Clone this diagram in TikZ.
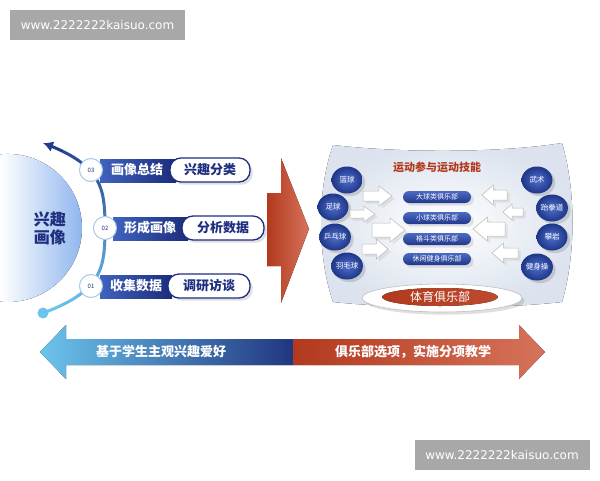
\documentclass[tikz,border=0pt]{standalone}
\usepackage{fontspec}
\setmainfont{Noto Sans CJK SC}
\newfontfamily\urlfont{DejaVu Sans}
\usetikzlibrary{shapes.geometric,shadows,arrows.meta}

\definecolor{navy}{HTML}{1F2F7F}
\definecolor{barleft}{HTML}{3F63BE}
\definecolor{barright}{HTML}{1C2C7C}
\definecolor{ringblue}{HTML}{A9C8E8}
\definecolor{arclight}{HTML}{6CC4EC}
\definecolor{arcdark}{HTML}{243C8E}
\definecolor{discblue}{HTML}{8DB4EE}
\definecolor{sportlight}{HTML}{4F6FCB}
\definecolor{sportdark}{HTML}{1E3688}
\definecolor{clubtop}{HTML}{4C6AC4}
\definecolor{clubbot}{HTML}{20388A}
\definecolor{redleft}{HTML}{B2391D}
\definecolor{redright}{HTML}{D6735B}
\definecolor{panelgray}{HTML}{DCE3EE}
\definecolor{wmgray}{HTML}{A8A8A8}

\tikzset{
  numdot/.style={circle,draw=ringblue,line width=1pt,fill=white,minimum size=23pt,inner sep=0pt,
    text=navy,font=\fontsize{6}{6}\selectfont},
  bartext/.style={text=white,font=\bfseries\fontsize{13}{13}\selectfont},
  pill/.style={draw=navy,line width=1.3pt,fill=white,rounded corners=11pt,minimum height=24pt,
    inner sep=0pt,text=navy,font=\bfseries\fontsize{13}{13}\selectfont,drop shadow={opacity=0.25}},
  sport/.style={ellipse,minimum width=31pt,minimum height=27pt,inner sep=0pt,inner color=sportlight,
    outer color=sportdark,text=white,font=\fontsize{7.5}{7.5}\selectfont,drop shadow={opacity=0.3}},
  club/.style={rounded corners=6pt,minimum width=68pt,minimum height=12pt,inner sep=0pt,
    top color=clubtop,bottom color=clubbot,text=white,font=\fontsize{7}{7}\selectfont,
    drop shadow={opacity=0.2}},
  warrow/.style={fill=white,draw=gray!55,line width=0.5pt,drop shadow={opacity=0.15}},
  watermark/.style={fill=wmgray,text=white,font=\urlfont\fontsize{12}{12}\selectfont,
    minimum width=175pt,minimum height=30pt,inner sep=0pt}
}

% white block arrow: tail x, tip x, y, half body, half head
\newcommand\whitearrow[5]{%
  \pgfmathsetmacro\hb{#2-0.45*(#2-#1)}
  \draw[warrow] (#1,#3-#4) -- (\hb,#3-#4) -- (\hb,#3-#5) -- (#2,#3) -- (\hb,#3+#5)
    -- (\hb,#3+#4) -- (#1,#3+#4) -- cycle;
}

\begin{document}
\begin{tikzpicture}[x=1pt,y=-1pt]
  \useasboundingbox (0,0) rectangle (600,480);
  \fill[white] (0,0) rectangle (600,480);

  % watermarks
  \node[watermark] (wm1) at (97.5,25) {www.2222222kaisuo.com};
  \node[watermark] (wm2) at (502,455) {www.2222222kaisuo.com};

  % left half disc
  \fill[left color=white,right color=discblue] (0,154.4) arc[start angle=-96.2,end angle=96.2,radius=74] -- cycle;
  \node[text=navy,align=center,font=\bfseries\fontsize{16}{18}\selectfont] (disc) at (50,228) {兴趣\\画像};

  % arc
  \foreach \i in {0,...,18}{
    \pgfmathsetmacro\ta{-1+\i/10}
    \pgfmathsetmacro\tb{-1+(\i+1)/10}
    \pgfmathsetmacro\p{\i*5}
    \draw[arcdark!\p!arclight,line width=3pt,line cap=round]
      plot[domain=\ta:\tb,samples=6] ({105-8*(\x)*(\x)-54*(\x)*(\x)*(\x)*(\x)},{228-85*\x});
  }
  \draw[arcdark,line width=3pt,-{Latex[length=10pt,width=11pt]}]
    plot[domain=0.9:1,samples=6] ({105-8*(\x)*(\x)-54*(\x)*(\x)*(\x)*(\x)},{228-85*\x});
  \fill[arclight] (43,313) circle (5.5);

  % rows
  \fill[left color=barleft,right color=barright] (100,159) rectangle (176,182);
  \fill[left color=barleft,right color=barright] (113,217) rectangle (188,240);
  \fill[left color=barleft,right color=barright] (100,275) rectangle (172,298);
  \node[numdot] (n3) at (91,170) {03};
  \node[numdot] (n2) at (105,228) {02};
  \node[numdot] (n1) at (91,286) {01};
  \node[bartext] (b3) at (137,170) {画像总结};
  \node[bartext] (b2) at (150,228) {形成画像};
  \node[bartext] (b1) at (136,286) {收集数据};
  \node[pill,minimum width=80pt] (p3) at (210,170) {兴趣分类};
  \node[pill,minimum width=82pt] (p2) at (223,228) {分析数据};
  \node[pill,minimum width=82pt] (p1) at (209,286) {调研访谈};

  % big red arrow
  \fill[left color=redleft,right color=redright] (267,193) -- (281,193) -- (281,158) -- (309,229)
    -- (281,303) -- (281,266) -- (267,266) -- cycle;

  % right panel
  \fill[inner color=white,outer color=panelgray] (333,145) .. controls (400,153) and (500,153) .. (562,143)
    .. controls (576,190) and (576,255) .. (562,302) .. controls (500,309) and (400,309) .. (333,302)
    .. controls (317,255) and (317,190) .. (333,145) -- cycle;
  \node[text=redleft,font=\bfseries\fontsize{11}{11}\selectfont] (title) at (437,167) {运动参与运动技能};

  \node[sport] (s1) at (347,180) {篮球};
  \node[sport] (s2) at (333,207) {足球};
  \node[sport] (s3) at (335,237) {乒乓球};
  \node[sport] (s4) at (347,266) {羽毛球};
  \node[sport] (s5) at (537,180) {武术};
  \node[sport] (s6) at (552,208) {跆拳道};
  \node[sport] (s7) at (552,237) {攀岩};
  \node[sport] (s8) at (537,267) {健身操};

  \node[club] (c1) at (437,197) {大球类俱乐部};
  \node[club] (c2) at (437,218) {小球类俱乐部};
  \node[club] (c3) at (437,239) {格斗类俱乐部};
  \node[club] (c4) at (437,259) {休闲健身俱乐部};

  \whitearrow{363}{392}{196}{5}{10}
  \whitearrow{350}{375}{214}{4}{8}
  \whitearrow{372}{405}{230}{7}{12}
  \whitearrow{362}{388}{249}{5}{10}
  \whitearrow{507}{482}{195}{5}{10}
  \whitearrow{523}{503}{212}{4}{8}
  \whitearrow{505}{473}{229}{7}{12}
  \whitearrow{518}{492}{253}{5}{10}

  % club base
  \fill[white,draw=gray!50,line width=0.6pt,drop shadow={opacity=0.25}] (442,298) ellipse (80 and 14);
  \fill[left color=redleft,right color=redleft!70!redright] (440,297) ellipse (58 and 9);
  \node[text=white,font=\fontsize{12}{12}\selectfont] (base) at (440,297) {体育俱乐部};

  % bottom double arrow
  \fill[left color=arclight,right color=arcdark!90!black] (40,352) -- (66,325) -- (66,339) -- (293,339)
    -- (293,365) -- (66,365) -- (66,379) -- cycle;
  \fill[left color=redleft,right color=redright] (293,339) -- (519,339) -- (519,325) -- (545,352)
    -- (519,379) -- (519,365) -- (293,365) -- cycle;
  \node[bartext] (goal1) at (161,352) {基于学生主观兴趣爱好};
  \node[bartext] (goal2) at (413,352) {俱乐部选项，实施分项教学};
\end{tikzpicture}
\end{document}
